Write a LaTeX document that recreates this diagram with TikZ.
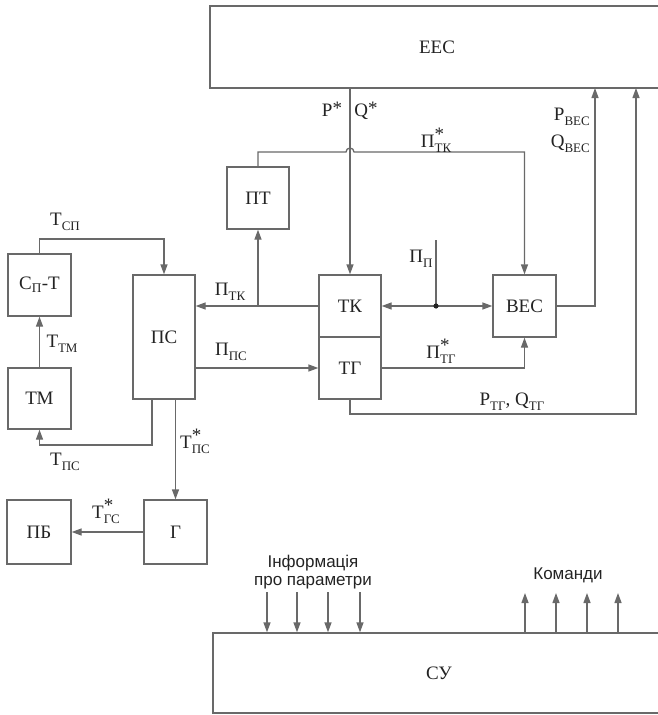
\documentclass[tikz,border=0pt]{standalone}
\usepackage{amsmath}
\usepackage{fontspec}
\setmainfont{Liberation Serif}
\newfontfamily\sansf{Liberation Sans}
\usetikzlibrary{arrows.meta}
\definecolor{ln}{RGB}{105,105,105}
\definecolor{tx}{RGB}{35,35,35}
\newcommand\lsub[2]{#1\raisebox{-5pt}{\fontsize{13}{13}\selectfont #2}}
\newcommand\lstar[2]{#1\makebox[0pt][l]{\raisebox{7pt}{*}}\raisebox{-5pt}{\fontsize{13}{13}\selectfont #2}}
\begin{document}
\begin{tikzpicture}[x=1pt,y=-1pt,
  blk/.style={draw=ln, line width=1.3pt, inner sep=0pt, text=tx, font=\fontsize{19}{22}\selectfont},
  conn/.style={draw=ln, line width=1.3pt},
  arr/.style={conn, -{Triangle[length=10pt,width=7pt]}},
  lbl/.style={text=tx, inner sep=0pt, font=\fontsize{19}{22}\selectfont},
  sf/.style={text=tx, inner sep=0pt, font=\sansf\fontsize{17}{20}\selectfont}]
\useasboundingbox (0,0) rectangle (658,715);
% blocks
\node[blk, minimum width=454pt, minimum height=82pt] (EEC) at (437,47) {ЕЕС};
\node[blk, minimum width=62pt, minimum height=62pt] (PT) at (258,198) {ПТ};
\node[blk, minimum width=63pt, minimum height=62pt] (CPT) at (39.5,285) {С$_{\text{П}}$-Т};
\node[blk, minimum width=62pt, minimum height=124pt] (PC) at (164,337) {ПС};
\node[blk, minimum width=62pt, minimum height=62pt] (TK) at (350,306) {ТК};
\node[blk, minimum width=62pt, minimum height=62pt] (TG) at (350,368) {ТГ};
\node[blk, minimum width=63pt, minimum height=62pt] (BEC) at (524.5,306) {ВЕС};
\node[blk, minimum width=63pt, minimum height=61pt] (TM) at (39.5,398.5) {ТМ};
\node[blk, minimum width=63pt, minimum height=64pt] (G) at (175.5,532) {Г};
\node[blk, minimum width=64pt, minimum height=64pt] (PB) at (39,532) {ПБ};
\node[blk, minimum width=452pt, minimum height=80pt] (CY) at (439,673) {СУ};
% coordinates
\coordinate (hopL) at (346,152);
\coordinate (pbtop) at (595,88);
\coordinate (ptg) at (636,414);
\coordinate (ptgtop) at (636,88);
\coordinate (pp) at (436,240);
\coordinate (dot) at (436,306);
\coordinate (tsp) at (164,239);
\coordinate (tpcc) at (100,445);
% connectors
\draw[arr] (TK.north |- EEC.south) -- (TK.north);
\draw[arr] (PT.north) |- (hopL) arc[start angle=180,end angle=0,radius=4pt] -| (BEC.north);
\draw[arr] (BEC.east) -| (pbtop);
\draw[arr] (TG.south) |- (ptg) -- (ptgtop);
\draw[conn] (pp) -- (dot);
\draw[arr] (dot) -- (TK.east);
\draw[arr] (dot) -- (BEC.west);
\fill[tx] (dot) circle[radius=2.6pt];
\draw[arr] (TG.east) -| (BEC.south);
\draw[arr] (TK.west) -- (PC.east |- TK.west);
\draw[arr] (PT.south |- TK.west) -- (PT.south);
\draw[arr] (PC.east |- TG.west) -- (TG.west);
\draw[arr] (CPT.north) |- (tsp) -- (PC.north);
\draw[arr] (TM.north) -- (CPT.south);
\draw[arr] ([xshift=-12pt]PC.south) |- (tpcc) -| (TM.south);
\draw[arr] (G.north |- PC.south) -- (G.north);
\draw[arr] (G.west) -- (PB.east);
\foreach \x in {267,297,328,360} {
  \coordinate (i\x) at (\x,592);
  \draw[arr] (i\x) -- (i\x |- CY.north);
}
\foreach \x in {525,556,587,618} {
  \coordinate (c\x) at (\x,593);
  \draw[arr] (c\x |- CY.north) -- (c\x);
}
% labels
\node[lbl, anchor=base] (lP) at (332,116) {P\raisebox{2pt}{*}};
\node[lbl, anchor=base] (lQ) at (366,116) {Q\raisebox{2pt}{*}};
\node[lbl, anchor=base] (lPTKs) at (436,147) {\lstar{П}{ТК}};
\node[lbl, anchor=base east] (lPBEC) at (590,120) {\lsub{P}{ВЕС}};
\node[lbl, anchor=base east] (lQBEC) at (590,147) {\lsub{Q}{ВЕС}};
\node[lbl, anchor=base] (lPTK) at (230,295) {\lsub{П}{ТК}};
\node[lbl, anchor=base] (lPPC) at (231,355) {\lsub{П}{ПС}};
\node[lbl, anchor=base] (lTSP) at (65,225) {\lsub{Т}{СП}};
\node[lbl, anchor=base] (lTTM) at (62,347) {\lsub{Т}{ТМ}};
\node[lbl, anchor=base] (lTPC) at (65,465) {\lsub{Т}{ПС}};
\node[lbl, anchor=base] (lTPCs) at (195,448) {\lstar{Т}{ПС}};
\node[lbl, anchor=base] (lTGCs) at (106,518) {\lstar{Т}{ГС}};
\node[lbl, anchor=base] (lPP) at (421,262) {\lsub{П}{П}};
\node[lbl, anchor=base] (lPTGs) at (441,358) {\lstar{П}{ТГ}};
\node[lbl, anchor=base] (lPQTG) at (512,405) {\lsub{P}{ТГ}, \lsub{Q}{ТГ}};
\node[sf, anchor=base] (linf1) at (313,567) {Інформація};
\node[sf, anchor=base] (linf2) at (313,585) {про параметри};
\node[sf, anchor=base] (lcmd) at (568,579) {Команди};
\end{tikzpicture}
\end{document}
